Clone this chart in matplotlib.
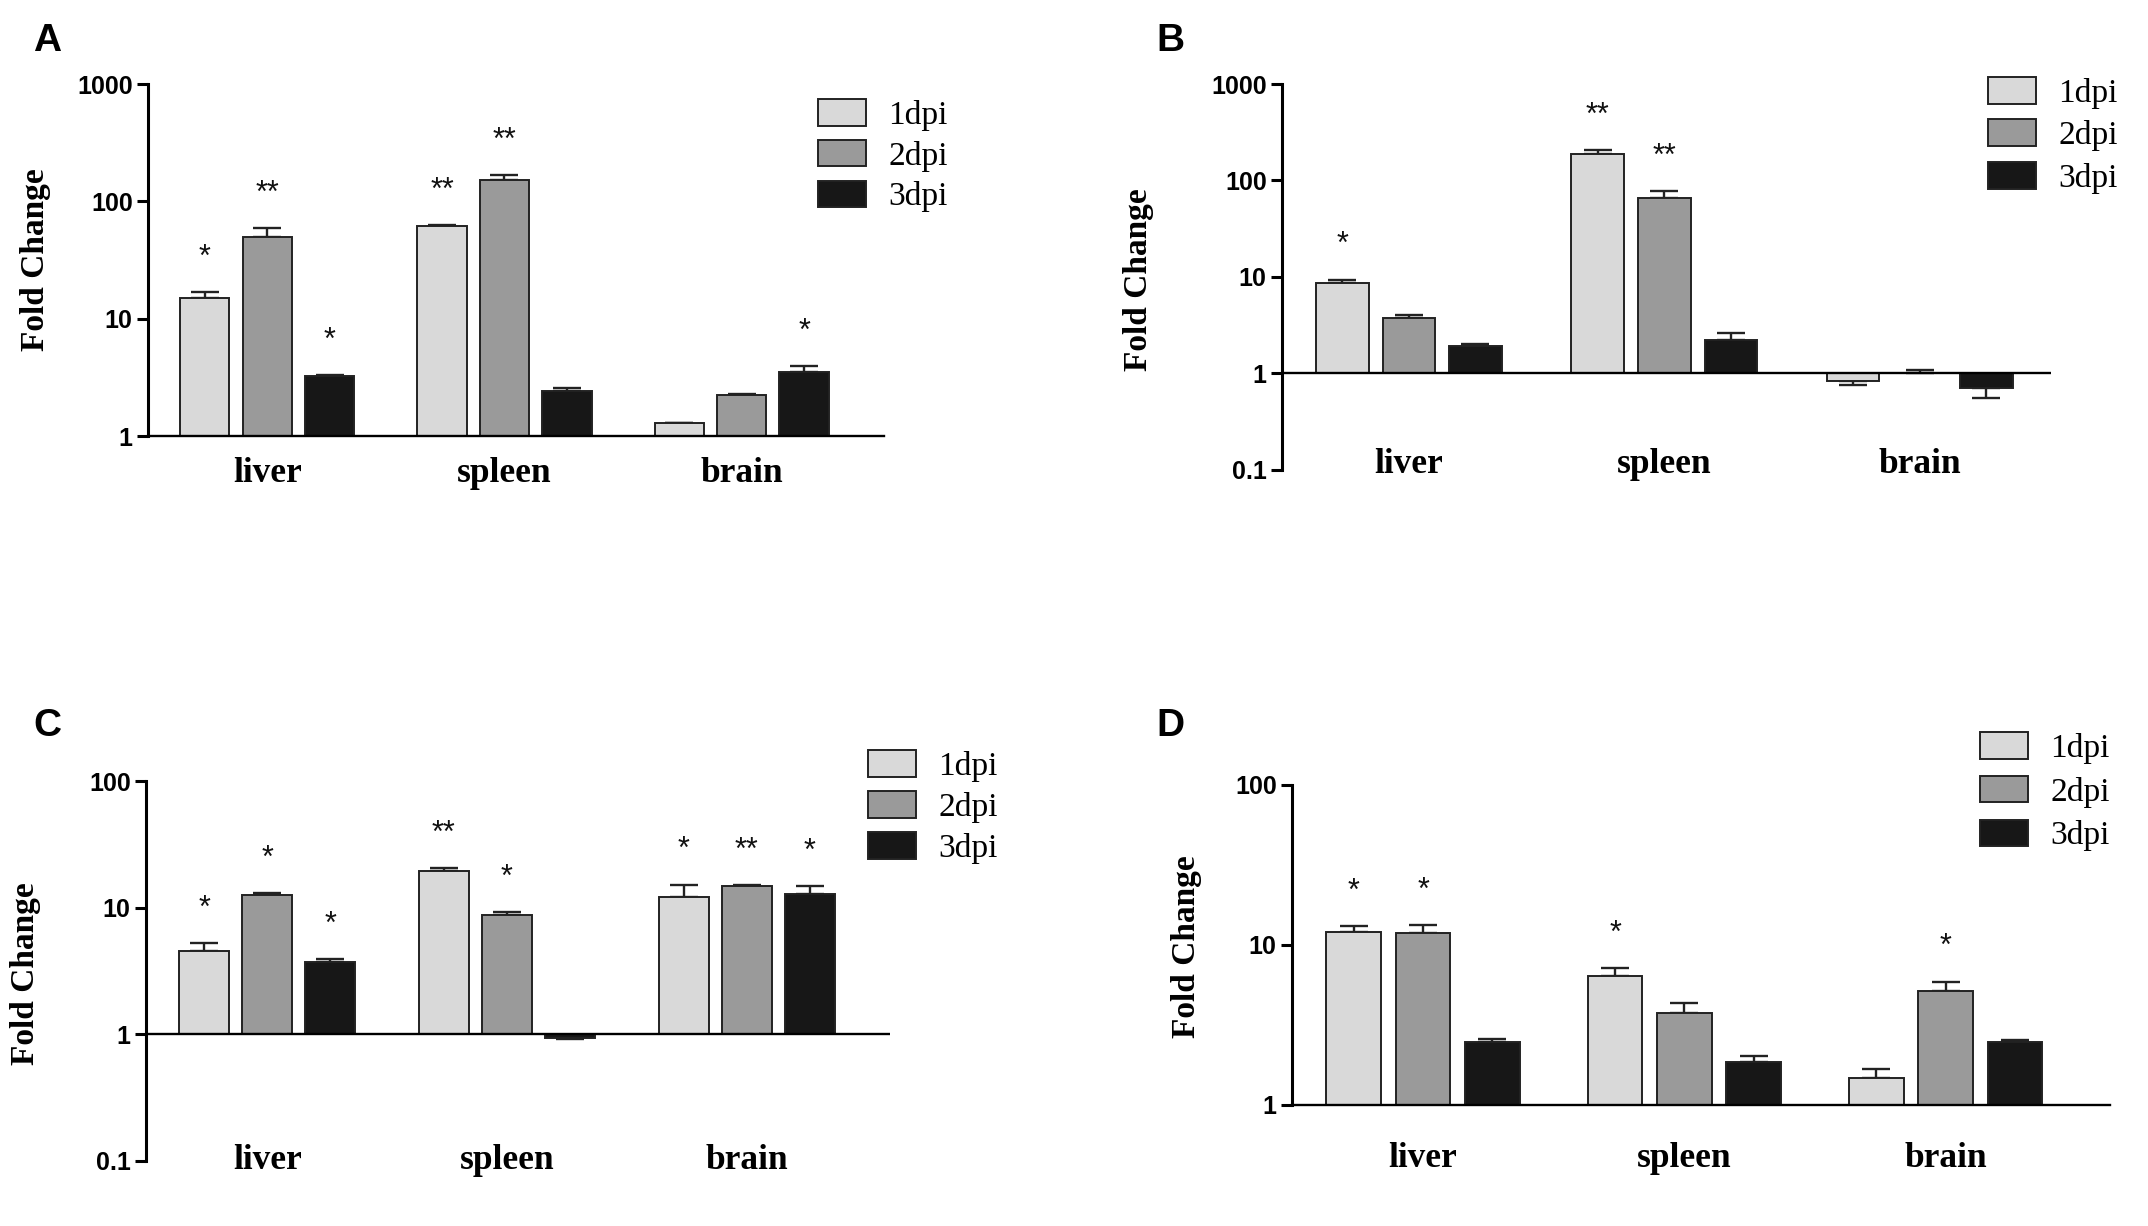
import matplotlib
matplotlib.use('Agg')
import matplotlib.pyplot as plt
import matplotlib.transforms as mtransforms
from matplotlib.ticker import FixedLocator, FixedFormatter, NullLocator
from matplotlib.font_manager import FontProperties
import numpy as np

plt.rcParams['font.family'] = ['Liberation Sans', 'DejaVu Sans']

# ---------------- data ----------------
categories = ['liver', 'spleen', 'brain']
series_labels = ['1dpi', '2dpi', '3dpi']
series_colors = ['#d9d9d9', '#9a9a9a', '#171717']

# Panel A (rows = 1dpi, 2dpi, 3dpi ; columns = liver, spleen, brain)
A_means = [[14.9, 61.5, 1.29], [50.0, 152.0, 2.23], [3.22, 2.44, 3.51]]
A_errs = [[2.0, 1.5, 0.01], [9.0, 15.0, 0.03], [0.08, 0.12, 0.43]]
A_stars = [['*', '**', ''], ['**', '**', ''], ['*', '', '*']]
A_ticks = [1, 10, 100, 1000]
A_ticklabels = ['1', '10', '100', '1000']

# Panel B
B_means = [[8.7, 186.0, 0.845], [3.73, 66.0, 1.01], [1.93, 2.24, 0.70]]
B_errs = [[0.66, 20.0, 0.09], [0.29, 12.0, 0.09], [0.07, 0.37, 0.14]]
B_stars = [['*', '**', ''], ['', '**', ''], ['', '', '']]
B_ticks = [0.1, 1, 10, 100, 1000]
B_ticklabels = ['0.1', '1', '10', '100', '1000']

# Panel C
C_means = [[4.57, 19.5, 12.1], [12.5, 8.77, 14.8], [3.75, 0.944, 12.9]]
C_errs = [[0.67, 1.1, 3.1], [0.5, 0.5, 0.2], [0.19, 0.024, 1.8]]
C_stars = [['*', '**', '*'], ['*', '*', '**'], ['*', '', '*']]
C_ticks = [0.1, 1, 10, 100]
C_ticklabels = ['0.1', '1', '10', '100']

# Panel D
D_means = [[12.1, 6.43, 1.48], [11.9, 3.74, 5.19], [2.46, 1.85, 2.46]]
D_errs = [[1.0, 0.76, 0.2], [1.4, 0.61, 0.71], [0.12, 0.16, 0.1]]
D_stars = [['*', '*', ''], ['*', '', '*'], ['', '', '']]
D_ticks = [1, 10, 100]
D_ticklabels = ['1', '10', '100']

# ---------------- layout ----------------
W, H = 2148, 1226
DPI = 100
fig = plt.figure(figsize=(W / DPI, H / DPI), dpi=DPI)
fig.patch.set_facecolor('white')

EDGE = '#222222'
SERIF = 'Liberation Serif'


def px_rect(left, right, top, bottom):
    return [left / W, 1 - bottom / H, (right - left) / W, (bottom - top) / H]


panels = [
    dict(letter='A', means=A_means, errs=A_errs, stars=A_stars,
         ticks=A_ticks, ticklabels=A_ticklabels,
         rect=(148, 884, 84, 436), ylim=(1, 1000), spine_base=True,
         xlim=(-1.91, 9.88), group=3.8,
         letter_xy=(33, 51), ylabel_xy=(36, 260), cat_y=482,
         legend_xy=(818, 99), legend_ls=0.27),
    dict(letter='B', means=B_means, errs=B_errs, stars=B_stars,
         ticks=B_ticks, ticklabels=B_ticklabels,
         rect=(1282, 2051, 84, 470), ylim=(0.1, 1000), spine_base=False,
         xlim=(-1.905, 9.64), group=3.835,
         letter_xy=(1156, 51), ylabel_xy=(1138, 280), cat_y=473,
         legend_xy=(1988, 77), legend_ls=0.32),
    dict(letter='C', means=C_means, errs=C_errs, stars=C_stars,
         ticks=C_ticks, ticklabels=C_ticklabels,
         rect=(146, 890, 781, 1161), ylim=(0.1, 100), spine_base=False,
         xlim=(-1.92, 9.87), group=3.8,
         letter_xy=(33, 736), ylabel_xy=(26, 974), cat_y=1169,
         legend_xy=(868, 750), legend_ls=0.28),
    dict(letter='D', means=D_means, errs=D_errs, stars=D_stars,
         ticks=D_ticks, ticklabels=D_ticklabels,
         rect=(1292, 2110, 785, 1105), ylim=(1, 100), spine_base=True,
         xlim=(-1.89, 9.91), group=3.77,
         letter_xy=(1156, 736), ylabel_xy=(1187, 947), cat_y=1167,
         legend_xy=(1980, 732), legend_ls=0.36),
]

BAR_W = 0.79

for p in panels:
    ax = fig.add_axes(px_rect(*p['rect']))
    ax.set_yscale('log')
    ax.set_ylim(*p['ylim'])
    ax.set_xlim(*p['xlim'])
    ax.set_facecolor('none')

    centers = np.arange(len(categories)) * p['group']
    handles = []
    for s, lab in enumerate(series_labels):
        means = np.array(p['means'][s], dtype=float)
        errs = np.array(p['errs'][s], dtype=float)
        xs = centers + (s - 1) * 1.0
        bars = ax.bar(xs, means - 1.0, bottom=1.0, width=BAR_W,
                      color=series_colors[s], edgecolor=EDGE,
                      linewidth=1.4, zorder=3, label=lab)
        handles.append(bars)
        up = np.where(means >= 1, errs, 0.0)
        lo = np.where(means >= 1, 0.0, errs)
        ax.errorbar(xs, means, yerr=[lo, up], fmt='none', ecolor=EDGE,
                    elinewidth=1.7, capsize=10, capthick=1.7, zorder=2)
        for xi, m, e, st in zip(xs, means, errs, p['stars'][s]):
            if st:
                ax.annotate(st, xy=(xi, m + e), xytext=(0, 19),
                            textcoords='offset points', ha='center',
                            va='baseline', fontsize=22,
                            family=['Liberation Sans', 'DejaVu Sans'],
                            color='#111111', zorder=5)

    # axes styling
    for side in ('top', 'right'):
        ax.spines[side].set_visible(False)
    ax.spines['left'].set_linewidth(2.2)
    ax.spines['left'].set_color('black')
    if p['spine_base']:
        ax.spines['bottom'].set_linewidth(1.7)
        ax.spines['bottom'].set_color('black')
        ax.spines['bottom'].set_zorder(4)
    else:
        ax.spines['bottom'].set_visible(False)
        ax.axhline(1, color='black', linewidth=1.7, zorder=4)

    ax.yaxis.set_major_locator(FixedLocator(p['ticks']))
    ax.yaxis.set_major_formatter(FixedFormatter(p['ticklabels']))
    ax.yaxis.set_minor_locator(NullLocator())
    ax.tick_params(axis='y', which='major', direction='out', length=8,
                   width=2.2, pad=3, labelsize=18)
    for t in ax.get_yticklabels():
        t.set_fontweight('bold')
        t.set_family('Liberation Sans')
    ax.set_xticks([])

    # category labels
    trans = mtransforms.blended_transform_factory(ax.transData, fig.transFigure)
    for c, name in zip(centers, categories):
        ax.text(c, 1 - p['cat_y'] / H, name, transform=trans, ha='center',
                va='baseline', fontsize=25.5, fontweight='bold', family=SERIF,
                clip_on=False)

    # legend
    ax.legend(handles, series_labels, loc='upper left',
              bbox_to_anchor=(p['legend_xy'][0] / W, 1 - p['legend_xy'][1] / H),
              bbox_transform=fig.transFigure, frameon=False,
              prop=FontProperties(family=SERIF, size=24),
              handlelength=1.45, handleheight=0.85, handletextpad=0.65,
              labelspacing=p['legend_ls'], borderpad=0, borderaxespad=0)

    # y label and panel letter
    fig.text(p['ylabel_xy'][0] / W, 1 - p['ylabel_xy'][1] / H, 'Fold Change',
             rotation=90, ha='center', va='center', fontsize=24,
             fontweight='bold', family=SERIF)
    fig.text(p['letter_xy'][0] / W, 1 - p['letter_xy'][1] / H, p['letter'],
             ha='left', va='baseline', fontsize=28, fontweight='bold',
             family='Liberation Sans')

fig.savefig('out.png', dpi=DPI, facecolor='white')
